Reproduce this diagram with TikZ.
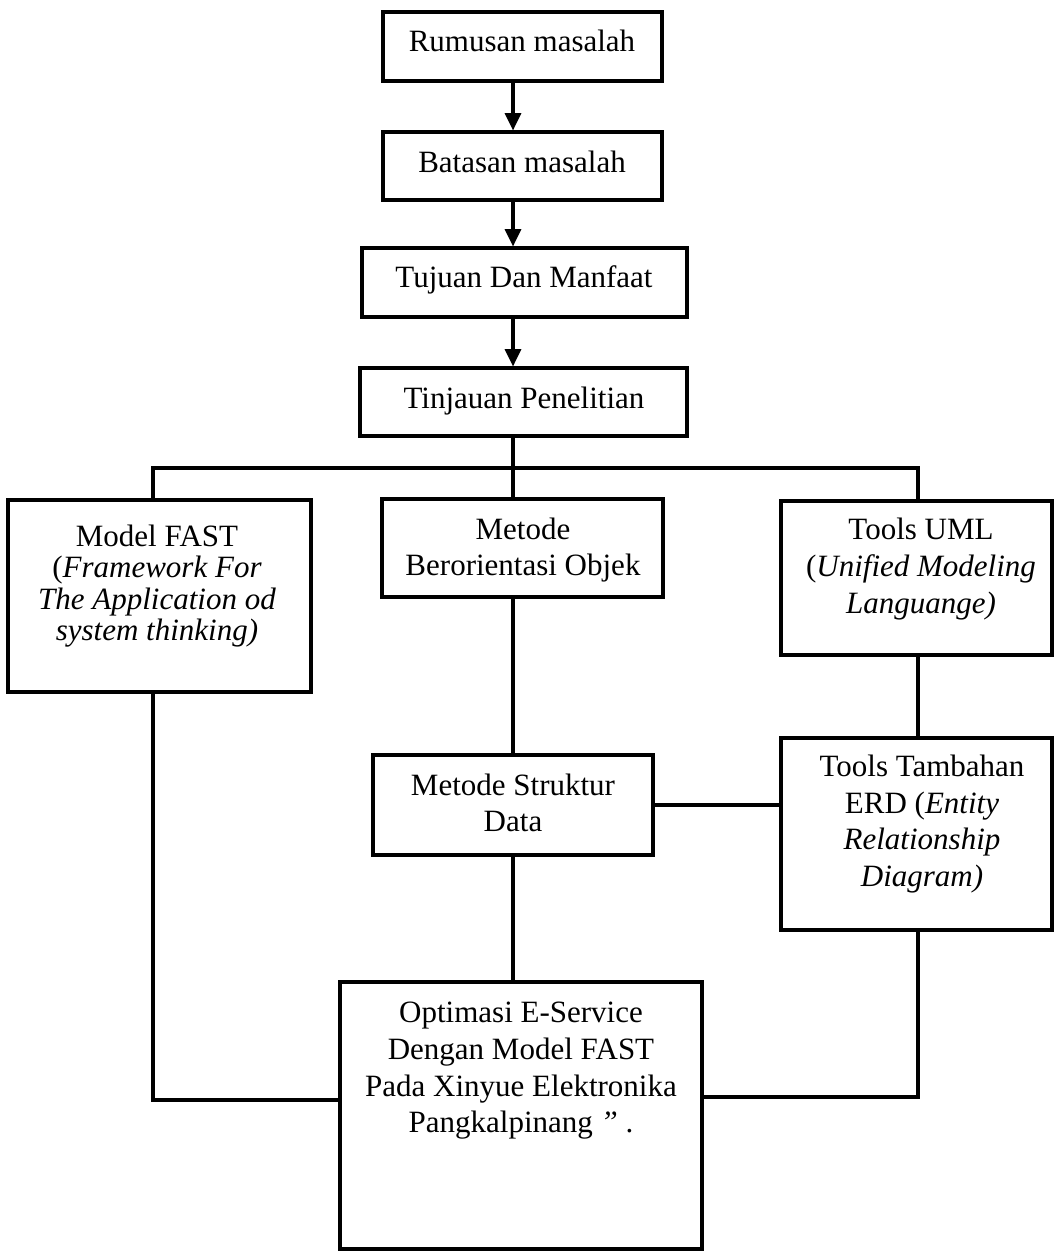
\documentclass[tikz,border=0pt]{standalone}
\usepackage{fontspec}
\setmainfont{Liberation Serif}
\usetikzlibrary{arrows.meta,fit}
\begin{document}
\begin{tikzpicture}[x=0.75pt,y=-0.75pt,
  box/.style={draw, line width=2.3pt, inner sep=0pt, rectangle},
  txt/.style={font=\fontsize{23.25pt}{27.5pt}\selectfont, align=center, inner sep=0pt},
  txtnarrow/.style={font=\fontsize{23.25pt}{23.5pt}\selectfont, align=center, inner sep=0pt},
  ln/.style={line width=2.3pt},
  arr/.style={line width=2.3pt, -{Triangle[width=12pt,length=13pt]}}]
\useasboundingbox (0,0) rectangle (1055,1252);
\fill[white] (0,0) rectangle (1055,1252);

% boxes
\node[box, fit={(383,12) (662,81)}] (b1) {};
\node[box, fit={(383,132) (662,200)}] (b2) {};
\node[box, fit={(362,248) (687,317)}] (b3) {};
\node[box, fit={(360,368) (687,436)}] (b4) {};
\node[box, fit={(8,500) (311,692)}] (fast) {};
\node[box, fit={(382,499) (663,597)}] (obj) {};
\node[box, fit={(781,501) (1052,655)}] (uml) {};
\node[box, fit={(373,755) (653,855)}] (msd) {};
\node[box, fit={(781,738) (1052,930)}] (erd) {};
\node[box, fit={(340,982) (702,1249)}] (opt) {};

% texts
\node[txt, anchor=base] (t1) at (522,52) {Rumusan masalah};
\node[txt, anchor=base] (t2) at (522,172) {Batasan masalah};
\node[txt, anchor=base] (t3) at (524,287) {Tujuan Dan Manfaat};
\node[txt, anchor=base] (t4) at (524,408) {Tinjauan Penelitian};
\node[txtnarrow] (tfast) at (157,586) {Model FAST\\(\textit{Framework For}\\\textit{The Application od}\\\textit{system thinking)}};
\node[txt] (tobj) at (523,550) {Metode\\Berorientasi Objek};
\node[txt] (tuml) at (921,569) {Tools UML\\(\textit{Unified Modeling}\\\textit{Languange)}};
\node[txt] (tmsd) at (513,803) {Metode Struktur\\Data};
\node[txt] (terd) at (922,824) {Tools Tambahan\\ERD (\textit{Entity}\\\textit{Relationship}\\\textit{Diagram)}};
\node[txt] (topt) at (521,1071) {Optimasi E-Service\\Dengan Model FAST\\Pada Xinyue Elektronika\\Pangkalpinang \textit{”} .};

% helper coordinates
\coordinate (sp) at (513,0);
\coordinate (fx) at (153,0);
\coordinate (ux) at (918,0);
\coordinate (bus) at (513,468);
\coordinate (yl) at (0,1100);
\coordinate (yr) at (0,1097);

% connectors
\draw[arr] (b1.south -| sp) -- (b2.north -| sp);
\draw[arr] (b2.south -| sp) -- (b3.north -| sp);
\draw[arr] (b3.south -| sp) -- (b4.north -| sp);
\draw[ln] (b4.south -| sp) -- (obj.north -| sp);
\draw[ln] (fast.north -| fx) |- (bus) -| (uml.north -| ux);
\draw[ln] (obj.south -| sp) -- (msd.north -| sp);
\draw[ln] (msd.south -| sp) -- (opt.north -| sp);
\draw[ln] (uml.south -| ux) -- (erd.north -| ux);
\draw[ln] (msd.east) -- (erd.west |- msd.east);
\draw[ln] (fast.south -| fx) |- (opt.west |- yl);
\draw[ln] (erd.south -| ux) |- (opt.east |- yr);
\end{tikzpicture}
\end{document}
